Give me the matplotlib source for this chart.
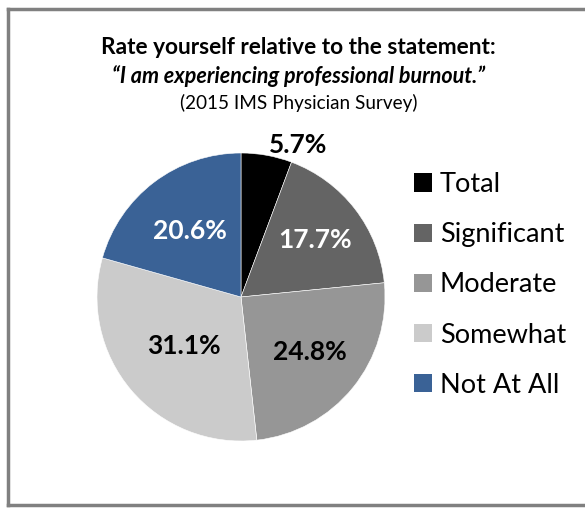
import matplotlib
matplotlib.use("Agg")
import matplotlib.pyplot as plt
from matplotlib.patches import Patch
from matplotlib.lines import Line2D
import numpy as np

categories = ["Total", "Significant", "Moderate", "Somewhat", "Not At All"]
values = [5.7, 17.7, 24.8, 31.1, 20.6]
colors = ["#000000", "#646464", "#969696", "#cbcbcb", "#3a6296"]
label_colors = ["#000000", "#ffffff", "#000000", "#000000", "#ffffff"]

plt.rcParams['font.family'] = ['Lato', 'DejaVu Sans']

W, H = 585, 508
fig = plt.figure(figsize=(W / 100, H / 100), dpi=100)

# frame
fig.add_artist(Line2D([7.5 / W, 7.5 / W], [3 / H, 1 - 8.5 / H], transform=fig.transFigure, color="#808080", lw=2.5))
fig.add_artist(Line2D([7.5 / W, 1.0], [1 - 8.5 / H, 1 - 8.5 / H], transform=fig.transFigure, color="#808080", lw=2.5))
fig.add_artist(Line2D([7.5 / W, 1.0], [3 / H, 3 / H], transform=fig.transFigure, color="#808080", lw=2.5))

cx, cy, r = 241, 297, 144
ax = fig.add_axes([(cx - r) / W, (H - cy - r) / H, 2 * r / W, 2 * r / H])
wedges, _ = ax.pie(values, colors=colors, startangle=90, counterclock=False,
                   wedgeprops=dict(edgecolor="white", linewidth=0.4))
ax.set_xlim(-1, 1)
ax.set_ylim(-1, 1)
ax.set_aspect("equal")
ax.axis("off")

label_pos = {0: 1.07, 1: 0.65, 2: 0.61, 3: 0.52, 4: 0.58}
ang = 90.0
for i, v in enumerate(values):
    mid = ang - v / 100 * 360 / 2
    ang -= v / 100 * 360
    rr = label_pos[i]
    x = rr * np.cos(np.radians(mid))
    y = rr * np.sin(np.radians(mid))
    ha = "left" if i == 0 else "center"
    ax.text(x, y, f"{v:.1f}%", ha=ha, va="center", fontsize=19,
            fontweight="bold", color=label_colors[i], clip_on=False)

xc = 0.5 * (100 + 497) / W
fig.text(xc, 1 - 47 / H, "Rate yourself relative to the statement:",
         ha="center", va="center", fontsize=16.3, fontweight="bold")
fig.text(xc, 1 - 76 / H, "\u201cI am experiencing professional burnout.\u201d",
         ha="center", va="center", fontsize=15.5, fontweight="bold", style="italic")
fig.text(xc, 1 - 103 / H, "(2015 IMS Physician Survey)",
         ha="center", va="center", fontsize=13.6)

handles = [Patch(facecolor=c, edgecolor="none") for c in colors]
fig.legend(handles, categories, loc="upper left", bbox_to_anchor=(414 / W, 1 - 172 / H),
           frameon=False, fontsize=19.5, handlelength=0.65, handleheight=0.65,
           handletextpad=0.3, labelspacing=0.93, borderpad=0, borderaxespad=0)

fig.savefig("out.png", dpi=100)
